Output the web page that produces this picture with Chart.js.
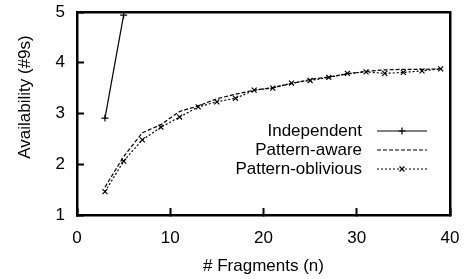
<!DOCTYPE html>
<html><head><meta charset="utf-8">
<script src="https://cdn.jsdelivr.net/npm/chart.js@4/dist/chart.umd.min.js"></script>
<style>html,body{margin:0;padding:0;background:#fff}canvas{display:block}</style>
</head><body>
<canvas id="c" width="466" height="279"></canvas>
<script>
const xTicks = [0, 10, 20, 30, 40];
const yTicks = [1, 2, 3, 4, 5];
const independentN = [3, 5];
const independentVals = [2.91, 4.94];
const fragN = [3, 5, 7, 9, 11, 13, 15, 17, 19, 21, 23, 25, 27, 29, 31, 33, 35, 37, 39];
const awareVals = [1.55, 2.15, 2.62, 2.78, 3.04, 3.15, 3.29, 3.38, 3.46, 3.51, 3.59, 3.67, 3.72, 3.78, 3.83, 3.86, 3.87, 3.87, 3.88];
const obliviousVals = [1.46, 2.06, 2.48, 2.73, 2.93, 3.13, 3.23, 3.30, 3.46, 3.50, 3.60, 3.65, 3.71, 3.79, 3.82, 3.79, 3.81, 3.84, 3.88];
const seriesNames = ['Independent', 'Pattern-aware', 'Pattern-oblivious'];
const xTitle = '# Fragments (n)';
const yTitle = 'Availability (#9s)';

const FAMILY = '"Liberation Sans", Arial, sans-serif';
const FONT = '17px ' + FAMILY;
const pts = (xs, ys) => xs.map((x, i) => ({x, y: ys[i]}));

const textPlugin = {
  id: 'texts',
  afterDraw(chart) {
    const ctx = chart.ctx;
    const xs = chart.scales.x;
    ctx.save();
    ctx.fillStyle = '#000';
    ctx.font = FONT;
    ctx.textAlign = 'center';
    ctx.textBaseline = 'middle';
    ctx.fillText(xTitle, (xs.left + xs.right) / 2, 266);
    ctx.translate(25, 97);
    ctx.rotate(-Math.PI / 2);
    ctx.fillText(yTitle, 0, 0);
    ctx.restore();
    // legend
    ctx.save();
    ctx.font = FONT;
    ctx.textAlign = 'right';
    ctx.textBaseline = 'middle';
    ctx.fillStyle = '#000';
    const rowY = [131, 150, 169];
    chart.data.datasets.forEach((ds, i) => {
      const y = rowY[i];
      ctx.fillText(ds.label, 362, y);
      ctx.beginPath();
      ctx.strokeStyle = '#000';
      ctx.lineWidth = ds.borderWidth;
      ctx.setLineDash(ds.borderDash || []);
      ctx.moveTo(377, y); ctx.lineTo(427, y);
      ctx.stroke();
      ctx.setLineDash([]);
      if (ds.pointRadius > 0) {
        ctx.lineWidth = 1.2;
        Chart.helpers.drawPoint(ctx, {pointStyle: ds.pointStyle, radius: ds.pointRadius, borderWidth: 1.2, rotation: 0}, 402, y);
      }
    });
    ctx.restore();
  }
};

const tickFont = {family: FAMILY, size: 17};
const frameBorder = {display: true, width: 2.5, color: '#000'};
const gridOpts = {display: true, drawOnChartArea: false, drawTicks: true, tickLength: -7, tickWidth: 2, tickColor: '#000', color: '#000'};

new Chart(document.getElementById('c'), {
  type: 'line',
  data: {
    datasets: [
      {label: seriesNames[0], data: pts(independentN, independentVals), borderColor: '#000', backgroundColor: '#000', borderWidth: 1.2, pointStyle: 'cross', pointRadius: 3.5, pointBorderWidth: 1.2, tension: 0},
      {label: seriesNames[1], data: pts(fragN, awareVals), borderColor: '#000', borderWidth: 1.2, borderDash: [4, 2], pointRadius: 0, tension: 0},
      {label: seriesNames[2], data: pts(fragN, obliviousVals), borderColor: '#000', backgroundColor: '#000', borderWidth: 1.2, borderDash: [2, 2], pointStyle: 'crossRot', pointRadius: 3.5, pointBorderWidth: 1.2, tension: 0}
    ]
  },
  options: {
    responsive: false,
    animation: false,
    layout: {padding: {top: 12, right: 16, left: 0, bottom: 0}},
    plugins: {legend: {display: false}, tooltip: {enabled: false}},
    scales: {
      x: {
        type: 'linear', min: 0, max: 40,
        afterBuildTicks: s => { s.ticks = xTicks.map(v => ({value: v})); },
        afterFit: s => { s.height = 64; s.paddingLeft = 0; s.paddingRight = 0; },
        grid: gridOpts,
        border: frameBorder,
        ticks: {color: '#000', font: tickFont, padding: 20, maxRotation: 0}
      },
      y: {
        type: 'linear', min: 1, max: 5,
        afterBuildTicks: s => { s.ticks = yTicks.map(v => ({value: v})); },
        afterFit: s => { s.width = 77; s.paddingTop = 0; s.paddingBottom = 0; },
        grid: gridOpts,
        border: frameBorder,
        ticks: {color: '#000', font: tickFont, padding: 19}
      },
      x2: {
        type: 'linear', position: 'top', min: 0, max: 40,
        afterFit: s => { s.height = 0; s.paddingLeft = 0; s.paddingRight = 0; },
        grid: {display: false, drawTicks: false},
        ticks: {display: false},
        border: frameBorder
      },
      y2: {
        type: 'linear', position: 'right', min: 1, max: 5,
        afterFit: s => { s.width = 0; s.paddingTop = 0; s.paddingBottom = 0; },
        grid: {display: false, drawTicks: false},
        ticks: {display: false},
        border: frameBorder
      }
    }
  },
  plugins: [textPlugin]
});
</script>
</body></html>
